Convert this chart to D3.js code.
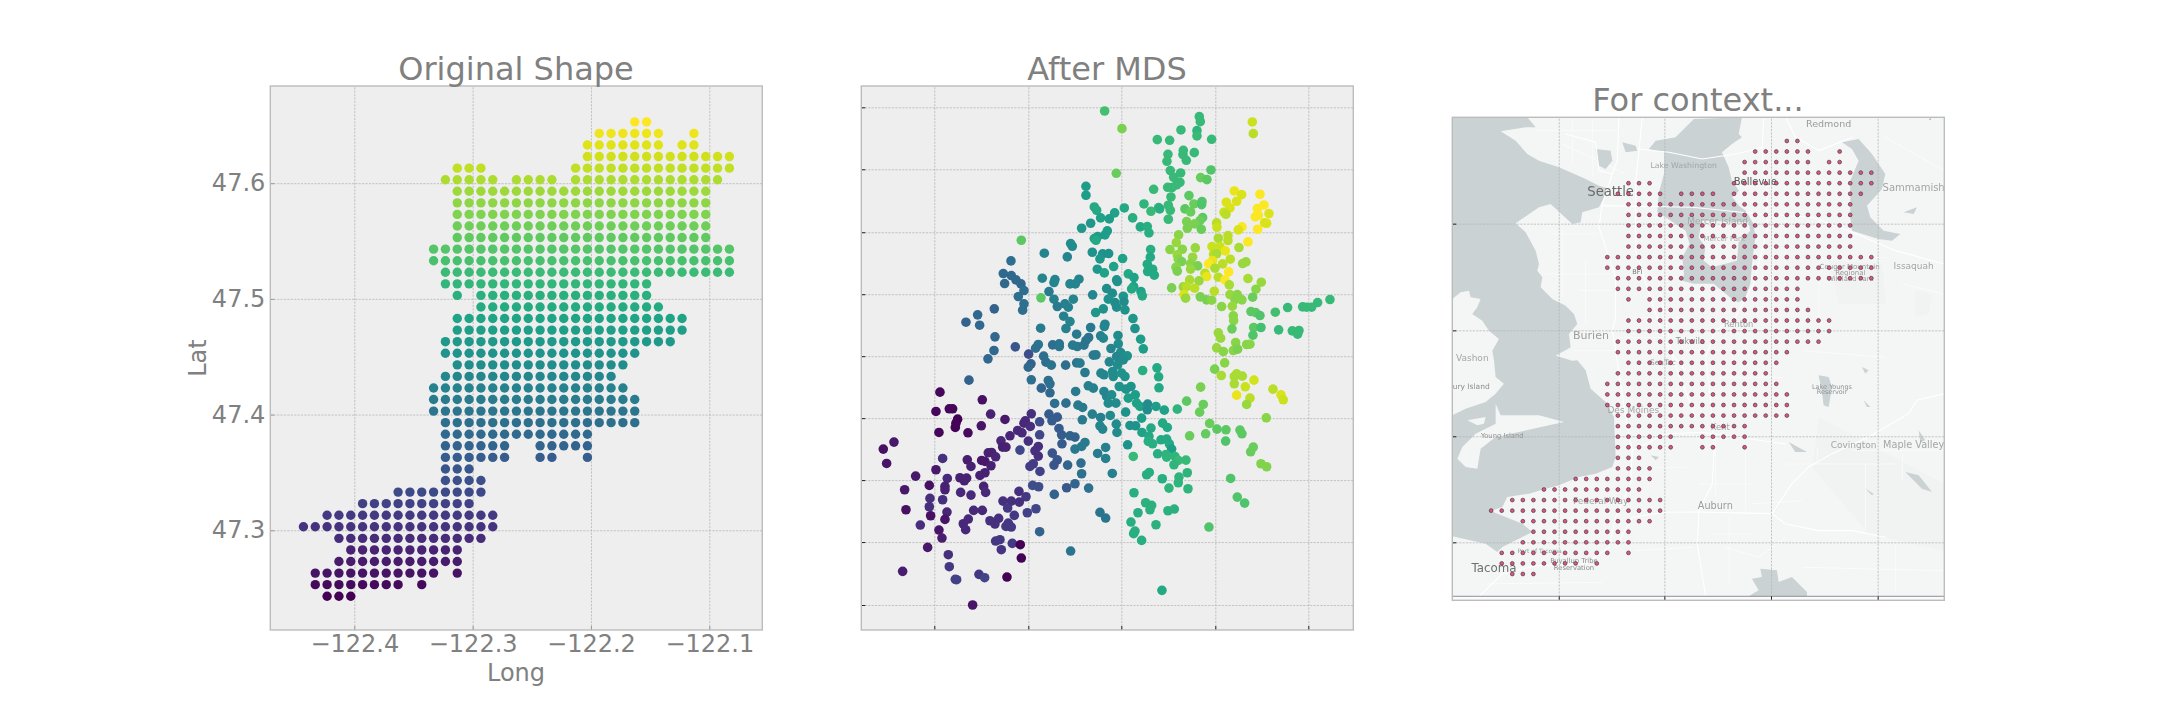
<!DOCTYPE html>
<html>
<head>
<meta charset="utf-8">
<script src="https://cdn.jsdelivr.net/npm/d3@7"></script>
<style>
  html, body { margin: 0; background: #fff; }
  text { font-family: "DejaVu Sans", sans-serif; }
</style>
</head>
<body>
<div id="chart"></div>
<script>
// Titles and axis text
const titles = ["Original Shape", "After MDS", "For context..."];
const lonTicks = [-122.4, -122.3, -122.2, -122.1];
const latTicks = [47.3, 47.4, 47.5, 47.6];

// Sample grid: one lat per row (south to north), one lon per column
const gridLats = [47.243, 47.253, 47.263, 47.273, 47.283, 47.293, 47.303, 47.313, 47.323, 47.333, 47.343,
  47.353, 47.363, 47.373, 47.383, 47.393, 47.403, 47.413, 47.423, 47.433, 47.443,
  47.453, 47.463, 47.473, 47.483, 47.493, 47.503, 47.513, 47.523, 47.533, 47.543,
  47.553, 47.563, 47.573, 47.583, 47.593, 47.603, 47.613, 47.623, 47.633, 47.643, 47.653];
const gridLons = [-122.443, -122.433, -122.423, -122.413, -122.403, -122.393, -122.383, -122.373, -122.363, -122.353,
  -122.343, -122.333, -122.323, -122.313, -122.303, -122.293, -122.283, -122.273, -122.263, -122.253,
  -122.243, -122.233, -122.223, -122.213, -122.203, -122.193, -122.183, -122.173, -122.163, -122.153,
  -122.143, -122.133, -122.123, -122.113, -122.103, -122.093, -122.083];
// Column runs [first, last] that hold a sample, row by row from the south
const gridRuns = [
  [[2,4]], [[1,8],[10,10]], [[1,11],[13,13]], [[3,13]], [[4,13]], [[3,15]], [[0,16]], [[2,16]], [[5,14]], [[8,15]],
  [[12,15]], [[12,14]], [[12,17],[20,21],[24,24]], [[12,17],[20,24]], [[12,24]], [[12,28]], [[11,28]], [[11,28]], [[11,27]], [[12,26]],
  [[13,27]], [[12,28]], [[12,31]], [[13,32]], [[13,32]], [[15,30]], [[13,13],[15,29]], [[12,29]], [[12,36]], [[11,36]],
  [[11,36]], [[13,34]], [[13,34]], [[13,34]], [[13,34]], [[13,34]], [[12,16],[18,21],[23,35]], [[13,15],[23,36]], [[24,36]], [[24,30],[32,33]],
  [[25,30],[33,33]], [[28,29]]
];

// MDS result: [x, y, lat of the source sample], arbitrary units
const mdsXTicks = [253, 535, 814, 1096, 1375];
const mdsYTicks = [112, 298, 487, 673, 859, 1045, 1231, 1417, 1606];
const mdsPoints = [
  [764,123,47.53],[816,176,47.57],[1048,140,47.52],[1051,155,47.52],[1207,156,47.62],[1210,191,47.61],[993,180,47.52],[1041,182,47.51],[1041,198,47.52],[922,209,47.52],
  [959,211,47.52],[1085,208,47.52],[1000,241,47.52],[999,254,47.52],[1009,271,47.52],[1033,248,47.52],[954,253,47.52],[951,274,47.52],[961,302,47.52],[992,309,47.52],
  [1083,300,47.54],[799,310,47.56],[971,322,47.52],[990,337,47.52],[980,345,47.52],[953,352,47.52],[966,353,47.52],[1052,323,47.56],[1071,329,47.55],[911,358,47.52],
  [708,349,47.47],[708,376,47.47],[1153,363,47.64],[1175,374,47.63],[1230,373,47.65],[1129,397,47.63],[1160,394,47.63],[1017,377,47.55],[963,381,47.52],[1032,402,47.56],
  [1056,395,47.54],[1055,404,47.54],[882,402,47.51],[955,406,47.52],[926,413,47.51],[929,417,47.5],[961,421,47.52],[903,424,47.52],[1005,417,47.55],[1022,426,47.56],
  [1242,405,47.65],[1222,416,47.65],[1140,414,47.63],[1122,427,47.62],[1128,433,47.61],[1257,431,47.63],[1225,436,47.65],[1216,441,47.65],[733,411,47.49],[740,421,47.49],
  [823,414,47.49],[794,429,47.48],[778,447,47.47],[752,444,47.48],[848,444,47.5],[955,448,47.52],[1058,443,47.55],[1050,452,47.56],[1010,455,47.57],[1034,462,47.57],
  [1100,459,47.61],[1244,459,47.63],[1250,460,47.63],[1101,472,47.62],[1176,471,47.65],[1165,480,47.63],[1223,478,47.65],[722,460,47.46],[695,475,47.46],[871,471,47.49],
  [892,470,47.5],[897,489,47.5],[1012,475,47.57],[1054,478,47.56],[772,483,47.47],[765,495,47.47],[743,500,47.47],[733,506,47.48],[738,511,47.49],[986,495,47.58],
  [1105,505,47.6],[1134,497,47.61],[1134,512,47.61],[1194,516,47.65],[514,511,47.55],[662,521,47.44],[667,529,47.44],[979,518,47.59],[1086,530,47.62],[1167,533,47.6],
  [960,539,47.58],[997,538,47.58],[1036,534,47.59],[1110,530,47.62],[1126,543,47.64],[902,539,47.5],[727,547,47.45],[583,550,47.43],[758,552,47.45],[776,551,47.45],
  [652,561,47.43],[750,567,47.46],[818,566,47.48],[901,562,47.49],[982,555,47.59],[1091,553,47.61],[1100,552,47.6],[1028,562,47.59],[1088,572,47.64],[1076,582,47.65],
  [1118,582,47.61],[1141,568,47.61],[1188,576,47.59],[1178,581,47.59],[985,568,47.58],[995,575,47.57],[483,573,47.39],[892,583,47.49],[791,590,47.48],[742,598,47.46],
  [1022,581,47.58],[1043,588,47.57],[978,592,47.58],[1022,598,47.59],[982,604,47.57],[1095,595,47.6],[1136,606,47.65],[1065,610,47.61],[763,609,47.48],[893,605,47.49],
  [908,598,47.49],[913,616,47.49],[835,612,47.49],[460,611,47.38],[484,617,47.38],[1105,622,47.61],[1125,630,47.65],[1070,620,47.64],[577,625,47.43],[615,629,47.43],
  [612,638,47.43],[687,628,47.43],[676,642,47.43],[660,642,47.43],[800,630,47.45],[802,635,47.45],[852,623,47.48],[1194,626,47.6],[1234,637,47.59],[1019,630,47.6],
  [1047,633,47.59],[1138,645,47.6],[464,641,47.38],[498,630,47.38],[513,642,47.38],[851,650,47.48],[845,657,47.49],[965,654,47.57],[1000,651,47.59],[1010,650,47.61],
  [1034,655,47.61],[1093,664,47.61],[770,656,47.44],[522,662,47.39],[597,665,47.41],[787,670,47.44],[873,665,47.48],[1218,658,47.58],[505,680,47.39],[728,675,47.43],
  [820,679,47.46],[877,678,47.49],[1002,674,47.63],[1007,685,47.59],[1051,681,47.57],[1070,690,47.57],[1085,691,47.58],[1140,674,47.59],[1162,674,47.58],[1208,682,47.56],
  [1155,689,47.58],[573,684,47.55],[612,688,47.42],[670,688,47.43],[775,688,47.45],[795,698,47.44],[1176,690,47.58],[1440,689,47.52],[522,702,47.39],[645,702,47.42],
  [822,695,47.44],[1403,698,47.52],[1358,711,47.52],[1370,712,47.52],[1385,712,47.52],[1313,713,47.52],[1147,709,47.59],[1115,710,47.58],[622,710,47.41],[655,712,47.42],
  [800,712,47.44],[825,720,47.45],[760,717,47.45],[433,717,47.37],[518,721,47.39],[737,728,47.46],[1203,725,47.55],[1217,728,47.55],[1230,737,47.54],[1276,727,47.53],
  [1150,738,47.58],[1151,752,47.58],[383,735,47.38],[641,739,47.42],[660,755,47.43],[849,746,47.46],[348,757,47.37],[389,766,47.38],[765,763,47.43],[763,770,47.43],
  [572,775,47.41],[648,776,47.42],[722,773,47.41],[855,776,47.45],[1146,777,47.56],[1211,773,47.55],[1233,773,47.53],[1286,780,47.52],[1327,783,47.52],[1347,782,47.52],
  [1343,793,47.52],[1105,789,47.59],[1112,805,47.59],[680,793,47.41],[435,801,47.38],[804,797,47.44],[752,798,47.42],[760,805,47.43],[1209,796,47.54],[716,803,47.4],
  [708,812,47.4],[872,808,47.47],[1157,818,47.58],[805,822,47.44],[565,824,47.4],[608,825,47.39],[628,822,47.4],[628,830,47.4],[668,826,47.41],[682,830,47.41],
  [702,826,47.4],[557,835,47.39],[496,831,47.35],[1190,824,47.58],[1200,823,47.58],[880,837,47.47],[783,836,47.43],[1100,834,47.59],[1120,845,47.58],[1150,842,47.58],
  [1163,838,47.57],[432,842,47.38],[536,853,47.34],[738,855,47.41],[730,856,47.41],[812,848,47.44],[832,858,47.45],[800,860,47.43],[820,870,47.44],[414,867,47.38],
  [581,859,47.39],[778,876,47.43],[680,879,47.4],[690,880,47.41],[588,877,47.39],[604,886,47.4],[647,886,47.39],[543,882,47.37],[535,892,47.38],[803,885,47.44],
  [1124,879,47.58],[1094,898,47.57],[878,902,47.5],[921,894,47.49],[705,908,47.41],[753,910,47.43],[762,915,47.43],[788,905,47.44],[790,920,47.44],[815,910,47.45],
  [825,920,47.45],[926,921,47.49],[1114,917,47.6],[1153,920,47.6],[1160,912,47.6],[1177,919,47.6],[1212,931,47.625],[544,930,47.39],[595,932,47.39],[600,942,47.39],
  [927,954,47.49],[1153,942,47.6],[1052,952,47.57],[1186,951,47.62],[574,955,47.375],[357,931,47.37],[715,948,47.42],[730,955,47.42],[270,967,47.25],[600,969,47.38],
  [677,965,47.41],[762,965,47.43],[770,980,47.43],[808,950,47.45],[828,958,47.45],[843,950,47.45],[856,975,47.47],[785,975,47.44],[1160,976,47.64],[1200,985,47.61],
  [1269,958,47.61],[1293,975,47.63],[1300,990,47.62],[397,990,47.26],[614,1001,47.39],[648,1000,47.39],[684,1006,47.41],[698,1013,47.41],[775,1000,47.44],[798,1000,47.44],
  [835,985,47.47],[860,1000,47.48],[870,1010,47.48],[893,1003,47.44],[892,1020,47.44],[918,1010,47.47],[943,1021,47.48],[982,1018,47.51],[1010,994,47.55],[1060,1004,47.56],
  [1190,1004,47.59],[258,1025,47.25],[298,1017,47.25],[308,1017,47.25],[422,1033,47.28],[544,1032,47.3],[597,1033,47.36],[622,1042,47.36],[606,1053,47.36],[697,1050,47.41],
  [727,1033,47.42],[752,1043,47.42],[781,1037,47.44],[827,1027,47.45],[875,1045,47.47],[1049,1027,47.56],[465,1049,47.27],[323,1048,47.245],[318,1060,47.245],[316,1073,47.245],
  [526,1053,47.29],[522,1060,47.29],[569,1056,47.34],[541,1070,47.295],[394,1068,47.265],[1249,1044,47.58],[1079,1061,47.56],[799,1063,47.44],[840,1067,47.45],[857,1068,47.45],
  [938,1060,47.49],[952,1073,47.49],[627,1076,47.36],[750,1068,47.43],[758,1078,47.43],[903,1075,47.49],[1101,1078,47.55],[1128,1080,47.55],[1170,1081,47.55],[1176,1092,47.55],
  [267,1088,47.25],[354,1089,47.255],[503,1082,47.29],[516,1089,47.29],[569,1095,47.33],[480,1098,47.285],[635,1095,47.36],[660,1098,47.37],[675,1102,47.37],[801,1088,47.44],
  [876,1088,47.48],[897,1100,47.49],[1019,1098,47.56],[1067,1092,47.555],[132,1117,47.27],[453,1113,47.29],[535,1114,47.3],[636,1122,47.36],[705,1118,47.41],[833,1125,47.45],
  [895,1115,47.5],[908,1122,47.5],[933,1110,47.49],[950,1108,47.49],[958,1122,47.49],[1127,1114,47.54],[100,1138,47.26],[458,1132,47.28],[468,1132,47.28],[565,1130,47.3],
  [555,1143,47.3],[510,1141,47.33],[675,1138,47.41],[695,1130,47.41],[767,1133,47.42],[965,1138,47.47],[1210,1132,47.56],[1202,1146,47.56],[415,1149,47.28],[425,1148,47.28],
  [437,1161,47.285],[607,1150,47.35],[743,1151,47.41],[923,1152,47.5],[850,1160,47.52],[948,1154,47.51],[950,1162,47.51],[975,1160,47.51],[565,1159,47.3],[278,1166,47.3],
  [352,1170,47.275],[395,1172,47.27],[405,1175,47.27],[622,1170,47.35],[767,1166,47.42],[1008,1171,47.52],[985,1172,47.52],[110,1181,47.265],[550,1182,47.315],[540,1190,47.315],
  [612,1186,47.35],[653,1186,47.375],[693,1180,47.39],[423,1188,47.28],[363,1190,47.28],[972,1185,47.51],[1233,1182,47.575],[1250,1191,47.575],[258,1200,47.27],[405,1209,47.28],
  [390,1217,47.28],[570,1205,47.32],[695,1212,47.395],[787,1211,47.42],[890,1215,47.5],[898,1208,47.5],[1012,1209,47.51],[197,1219,47.27],[292,1226,47.29],[330,1224,47.28],
  [343,1233,47.28],[350,1225,47.28],[937,1227,47.5],[1142,1226,47.54],[987,1222,47.51],[985,1239,47.51],[238,1247,47.26],[285,1250,47.28],[285,1260,47.28],[401,1250,47.28],
  [548,1247,47.34],[566,1251,47.34],[650,1254,47.355],[675,1242,47.375],[716,1255,47.395],[957,1255,47.51],[1014,1257,47.51],[164,1260,47.27],[332,1268,47.29],[407,1268,47.29],
  [363,1276,47.29],[507,1265,47.3],[613,1274,47.37],[852,1269,47.5],[240,1286,47.3],[278,1290,47.3],[528,1281,47.31],[459,1294,47.3],[484,1294,47.3],[508,1297,47.3],
  [1162,1282,47.54],[238,1311,47.3],[473,1315,47.31],[371,1322,47.29],[397,1322,47.29],[291,1327,47.285],[168,1320,47.26],[558,1317,47.33],[887,1299,47.505],[905,1307,47.505],
  [900,1320,47.505],[954,1323,47.505],[973,1318,47.505],[1184,1300,47.54],[750,1328,47.4],[242,1338,47.26],[532,1329,47.32],[864,1329,47.5],[493,1337,47.31],[767,1345,47.4],
  [355,1348,47.29],[446,1346,47.3],[420,1353,47.3],[285,1349,47.265],[435,1363,47.3],[475,1360,47.31],[468,1370,47.31],[484,1372,47.31],[340,1362,47.29],[211,1366,47.295],
  [843,1357,47.5],[918,1365,47.505],[1077,1372,47.54],[347,1380,47.29],[267,1381,47.265],[569,1386,47.37],[855,1384,47.5],[851,1392,47.5],[276,1405,47.275],[437,1414,47.31],
  [450,1410,47.31],[875,1412,47.5],[487,1421,47.315],[511,1425,47.245],[233,1433,47.27],[454,1440,47.305],[295,1455,47.3],[662,1444,47.4],[514,1465,47.245],[298,1491,47.31],
  [158,1505,47.275],[316,1529,47.32],[320,1530,47.32],[387,1514,47.31],[404,1524,47.325],[471,1522,47.245],[936,1562,47.49],[368,1606,47.265]
];

// Basemap, in tile units measured from the top-left corner of the map image
const mapWater = [
  [[0,0],[225,0],[250,30],[220,30],[145,42],[190,70],[225,110],[260,130],[320,150],[400,185],[440,205],[470,215],[450,250],[440,270],[390,285],[385,315],[360,320],[295,260],[260,270],[190,318],[220,345],[250,400],[260,440],[255,460],[270,480],[265,510],[300,545],[340,565],[365,590],[375,620],[350,650],[355,690],[310,715],[360,730],[375,729],[400,759],[415,814],[460,854],[485,899],[490,1019],[480,1049],[430,1069],[380,1079],[320,1104],[280,1114],[230,1129],[165,1139],[150,1169],[115,1181],[160,1199],[210,1219],[240,1244],[210,1259],[150,1289],[135,1304],[100,1279],[0,1257]],
  [[590,95],[610,70],[670,60],[700,30],[725,5],[869,0],[859,50],[869,60],[839,80],[809,105],[829,150],[839,190],[860,220],[840,240],[860,265],[880,280],[904,320],[909,360],[899,440],[894,500],[879,540],[859,555],[844,549],[784,499],[724,499],[690,490],[695,470],[690,420],[712,380],[700,340],[640,300],[615,285],[620,225],[635,170],[636,105]],
  [[430,95],[475,100],[480,130],[460,155],[440,145]],
  [[510,75],[550,85],[555,100],[520,105]],
  [[1169,75],[1219,65],[1259,110],[1299,170],[1289,215],[1244,265],[1254,300],[1294,340],[1344,350],[1319,370],[1279,365],[1199,340],[1194,300],[1194,190],[1219,130],[1199,95]],
  [[1354,285],[1394,270],[1384,290]],
  [[1099,774],[1129,779],[1139,809],[1129,869],[1114,864],[1109,824]],
  [[1009,974],[1064,1004],[1029,1004]],
  [[1359,1064],[1399,1074],[1439,1124],[1409,1114]],
  [[1239,1114],[1264,1129],[1259,1134]],
  [[1399,939],[1419,969],[1404,974]],
  [[1229,749],[1249,759],[1239,769]],
  [[1234,849],[1254,869],[1244,869]],
  [[924,1354],[974,1359],[979,1394],[1019,1379],[1064,1424],[1064,1437],[889,1437],[919,1419],[899,1384],[929,1379]],
  [[595,1014],[620,1019],[610,1029]]
];
const mapLand = [
  [[0,545],[25,525],[50,520],[55,540],[85,545],[75,570],[60,590],[90,610],[110,640],[140,665],[120,700],[125,729],[130,779],[155,799],[130,829],[100,854],[40,874],[0,894]],
  [[130,859],[145,894],[170,894],[260,894],[335,914],[290,924],[200,944],[130,959],[85,994],[75,1054],[40,1049],[15,1024],[30,989],[70,949],[130,919]],
  [[45,909],[100,899],[95,919],[75,924]],
  [[749,310],[889,315],[894,340],[859,375],[854,430],[779,450],[754,430],[759,390],[739,360]]
];
const mapShade = [
  [[1389,520],[1439,530],[1429,590],[1389,600]],
  [[1100,900],[1476,1100],[1476,1300],[1250,1250],[1080,1050]],
  [[1130,430],[1290,440],[1300,560],[1160,560]]
];
const mapRoads = [
  [[500,0],[495,130],[480,170],[450,260],[440,330],[490,480],[490,600],[480,640],[490,700],[505,800],[520,900],[540,1000],[535,1100],[490,1200],[470,1290],[400,1340],[250,1345],[150,1370]],
  [[555,95],[650,105],[750,125],[850,110],[930,90]],
  [[450,265],[720,270],[920,290],[1080,300],[1200,345],[1330,400],[1476,440]],
  [[934,0],[929,100],[944,230],[944,340],[904,500],[849,600],[789,640],[760,720],[770,800],[780,900],[785,1000],[780,1100],[740,1180],[735,1280],[760,1437]],
  [[729,1184],[959,1189],[1019,1099],[1069,1049],[1139,1009],[1249,959],[1369,889],[1394,849],[1476,829]],
  [[340,50],[430,75],[440,160],[480,170]],
  [[570,0],[560,100],[550,200],[550,400],[600,560],[650,700],[700,760]],
  [[620,500],[660,720],[730,900]],
  [[1000,0],[1030,60],[1100,100],[1200,60]],
  [[959,1189],[1000,1220],[1100,1240],[1200,1240],[1300,1260]],
  [[540,1000],[640,950],[750,945],[1000,980]],
  [[150,1370],[80,1437]],
  [[490,1290],[540,1200],[640,1185],[729,1184]]
];
const mapStreets = [
  [[330,80],[520,170]], [[360,0],[360,140]], [[420,0],[420,180]], [[250,40],[500,40]], [[300,350],[430,350]], [[330,300],[330,540]], [[400,430],[400,620]], [[280,470],[470,470]],
  [[380,520],[480,520]], [[490,660],[720,660]], [[360,700],[500,700]], [[600,480],[730,480]], [[580,640],[680,640]], [[1000,200],[1000,560]], [[1100,420],[1300,420]], [[1000,640],[1200,640]],
  [[790,960],[790,1130]], [[740,1100],[900,1100]], [[880,1000],[880,1180]], [[780,1250],[900,1250]], [[830,1200],[830,1400]], [[1000,1040],[1330,1040]], [[1095,990],[1095,1030]], [[1200,1000],[1476,1000]],
  [[1350,1010],[1350,1090]], [[1050,1350],[1476,1360]], [[1330,1280],[1330,1420]], [[100,1400],[450,1395]], [[550,1300],[720,1290]], [[600,1050],[700,1050]], [[1100,300],[1100,600]], [[1300,60],[1476,160]],
  [[1350,500],[1476,530]], [[640,150],[700,150]], [[1,640],[130,680]], [[60,640],[60,760]], [[20,840],[140,830]], [[820,1290],[920,1320],[1000,1260]],
  [[560,200],[620,200]], [[540,300],[620,300]], [[540,600],[700,600]], [[700,700],[900,700]], [[800,780],[1000,780]], [[1050,700],[1300,720]], [[1240,1040],[1240,1240]], [[900,1160],[1050,1150]]
];
const mapLabels = [
  ["Seattle", 475, 236, 13.2, "#6a6a6a"], ["Lake Washington", 694, 153, 7.8, "#a0a6a8"], ["Mercer Island", 796, 320, 9, "#a9a9a9"], ["Mercer Park", 816, 372, 7, "#a9a9a9"],
  ["Bellevue", 909, 204, 10, "#5a5a5a"], ["Redmond", 1129, 29, 9.5, "#9a9a9a"], ["Sammamish", 1384, 222, 10, "#a5a5a5"], ["Burien", 416, 664, 11, "#9c9c9c"],
  ["Vashon", 60, 732, 9, "#a5a5a5"], ["Issaquah", 1384, 455, 9, "#a5a5a5"], ["Cougar Mountain", 1192, 455, 7, "#9a9a9a"], ["Regional", 1194, 473, 7, "#9a9a9a"],
  ["Wildland Park", 1194, 490, 6.8, "#9a9a9a"], ["Renton", 859, 628, 8.3, "#a0a0a0"], ["Kent", 804, 937, 8.5, "#a5a5a5"], ["Auburn", 789, 1176, 9.7, "#9c9c9c"],
  ["Covington", 1204, 992, 9, "#a5a5a5"], ["Maple Valley", 1384, 992, 9.7, "#a5a5a5"], ["Lake Youngs", 1139, 814, 6.5, "#8f9496"], ["Reservoir", 1139, 830, 6.5, "#8f9496"],
  ["Des Moines", 543, 887, 9, "#a5a5a5"], ["Federal Way", 445, 1159, 9, "#a5a5a5"], ["Maury Island", 40, 815, 7.5, "#8f8f8f"], ["Young Island", 150, 962, 6.8, "#909090"],
  ["Puyallup Tribe", 365, 1338, 6.8, "#8a8a8a"], ["Reservation", 365, 1357, 6.8, "#8a8a8a"], ["Tacoma", 125, 1363, 11.8, "#6f6f6f"], ["Port of Tacoma", 262, 1307, 6, "#9a9a9a"],
  ["SeaTac", 632, 743, 7.5, "#9a9a9a"], ["Tukwila", 714, 681, 8, "#8f8f8f"], ["BFI", 555, 470, 6.5, "#777777"], ["Novelty Hill", 1420, 3, 8, "#a5a5a5"]
];
const mapGridLons = [-122.379, -122.279, -122.178, -122.077];
const mapGridLats = [47.2730, 47.3734, 47.4737, 47.5747];

// Expand the runs into the sample points
const gridPoints = [];
gridRuns.forEach((runs, r) => runs.forEach(run => {
  gridLons.slice(run[0], run[1] + 1).forEach(lon => gridPoints.push({lon: lon, lat: gridLats[r]}));
}));

const svg = d3.select("#chart").append("svg").attr("width", 2160).attr("height", 720);
const textColor = "#808080";
const color = d3.scaleSequential(d3.interpolateViridis).domain([47.243, 47.653]);

function frame(left, top) {
  return svg.append("g").attr("transform", "translate(" + left + "," + top + ")");
}
function gridAxes(g, x, y, xTicks, yTicks, w, h, tickColor) {
  const gx = g.append("g").attr("class", "grid").attr("transform", "translate(0," + h + ")")
    .call(d3.axisBottom(x).tickValues(xTicks).tickSize(-h).tickFormat(""));
  const gy = g.append("g").attr("class", "grid")
    .call(d3.axisLeft(y).tickValues(yTicks).tickSize(-w).tickFormat(""));
  g.selectAll(".grid .domain").remove();
  g.selectAll(".grid line").attr("stroke", "#b8b8b8").attr("stroke-width", 0.8).attr("stroke-dasharray", "2.2,1.2");
  // short inward tick on top of each grid line
  gx.selectAll(".tick").append("line").attr("y2", -4).attr("stroke", tickColor).attr("stroke-width", 1);
  gy.selectAll(".tick").append("line").attr("x2", 4).attr("stroke", tickColor).attr("stroke-width", 1);
}
function spine(g, w, h) {
  g.append("rect").attr("width", w).attr("height", h).attr("fill", "none")
    .attr("stroke", "#bcbcbc").attr("stroke-width", 1.4);
}
function title(text, cx, y) {
  svg.append("text").attr("x", cx).attr("y", y).attr("text-anchor", "middle")
    .attr("font-size", 32).attr("fill", textColor).text(text);
}

// Panel 1: original shape
const w1 = 492, h1 = 544;
const g1 = frame(270.3, 86);
g1.append("rect").attr("width", w1).attr("height", h1).attr("fill", "#eeeeee");
const xLon = d3.scaleLinear().domain([-122.471, -122.0552]).range([0, w1]);
const yLat = d3.scaleLinear().domain([47.2138, 47.684]).range([h1, 0]);
gridAxes(g1, xLon, yLat, lonTicks, latTicks, w1, h1, "#999999");
g1.selectAll(".pt").data(gridPoints).enter().append("circle")
  .attr("cx", d => xLon(d.lon)).attr("cy", d => yLat(d.lat)).attr("r", 4.7)
  .attr("fill", d => color(d.lat));
spine(g1, w1, h1);
const xLabels = g1.append("g").attr("transform", "translate(0," + h1 + ")")
  .call(d3.axisBottom(xLon).tickValues(lonTicks).tickSize(0).tickPadding(5).tickFormat(d3.format(".1f")));
const yLabels = g1.append("g")
  .call(d3.axisLeft(yLat).tickValues(latTicks).tickSize(0).tickPadding(5).tickFormat(d3.format(".1f")));
xLabels.select(".domain").remove();
yLabels.select(".domain").remove();
g1.selectAll("g.tick text").filter(function() { return this.textContent !== ""; })
  .attr("font-size", 24).attr("fill", textColor).style("font-family", "'DejaVu Sans'");
title(titles[0], 516, 80);
svg.append("text").attr("x", 516).attr("y", 681).attr("text-anchor", "middle")
  .attr("font-size", 24).attr("fill", textColor).text("Long");
svg.append("text").attr("transform", "translate(206,358) rotate(-90)").attr("text-anchor", "middle")
  .attr("font-size", 24).attr("fill", textColor).text("Lat");

// Panel 2: after MDS
const g2 = frame(861.3, 86);
g2.append("rect").attr("width", w1).attr("height", h1).attr("fill", "#eeeeee");
const xMds = d3.scaleLinear().domain([34, 1510]).range([0, w1]);
const yMds = d3.scaleLinear().domain([48, 1681]).range([0, h1]);
gridAxes(g2, xMds, yMds, mdsXTicks, mdsYTicks, w1, h1, "#222222");
g2.selectAll(".pt").data(mdsPoints).enter().append("circle")
  .attr("cx", d => xMds(d[0])).attr("cy", d => yMds(d[1])).attr("r", 4.8)
  .attr("fill", d => color(d[2]));
spine(g2, w1, h1);
title(titles[1], 1107, 80);

// Panel 3: the samples over a basemap
const h3 = 483;
const g3 = frame(1452.3, 117.3);
const xTile = d3.scaleLinear().domain([0, 1476]).range([0, w1]);
const yTile = d3.scaleLinear().domain([0, 1449]).range([0, h3]);
const xMapLon = d3.scaleLinear().domain([-122.4798, -122.0139]).range([0, w1]);
const yMapLat = d3.scaleLinear().domain([47.2181, 47.6754]).range([h3, 0]);
const tileLine = d3.line().x(d => xTile(d[0])).y(d => yTile(d[1]));
svg.append("defs").html('<filter id="soft" x="0" y="0" width="100%" height="100%"><feGaussianBlur stdDeviation="0.4"/></filter>'
  + '<clipPath id="mapclip"><rect width="492" height="479"/></clipPath>');
const map = g3.append("g").attr("clip-path", "url(#mapclip)").append("g").attr("filter", "url(#soft)");
map.append("rect").attr("x", xTile(0)).attr("y", yTile(0)).attr("width", w1).attr("height", yTile(1437)).attr("fill", "#f4f5f5");
map.selectAll(".shade").data(mapShade).enter().append("path").attr("d", d => tileLine(d) + "Z").attr("fill", "#f1f2f2");
map.selectAll(".street").data(mapStreets).enter().append("path").attr("d", tileLine)
  .attr("fill", "none").attr("stroke", "#fdfdfd").attr("stroke-width", 0.8);
map.selectAll(".water").data(mapWater).enter().append("path").attr("d", d => tileLine(d) + "Z").attr("fill", "#cad2d4");
map.selectAll(".land").data(mapLand).enter().append("path").attr("d", d => tileLine(d) + "Z").attr("fill", "#f4f5f5");
map.selectAll(".road").data(mapRoads).enter().append("path").attr("d", tileLine)
  .attr("fill", "none").attr("stroke", "#ffffff").attr("stroke-width", 1.1);
map.selectAll(".place").data(mapLabels).enter().append("text")
  .attr("x", d => xTile(d[1])).attr("y", d => yTile(d[2])).attr("text-anchor", "middle")
  .attr("font-size", d => d[3]).attr("fill", d => d[4]).text(d => d[0]);
g3.append("rect").attr("y", yTile(1437)).attr("width", w1).attr("height", h3 - yTile(1437)).attr("fill", "#fbfbfb");
g3.append("line").attr("x1", 0).attr("x2", w1).attr("y1", yTile(1437)).attr("y2", yTile(1437))
  .attr("stroke", "#8e8e9c").attr("stroke-width", 1);
gridAxes(g3, xMapLon, yMapLat, mapGridLons, mapGridLats, w1, h3, "#222222");
g3.selectAll(".pt").data(gridPoints).enter().append("circle")
  .attr("cx", d => xMapLon(d.lon)).attr("cy", d => yMapLat(d.lat)).attr("r", 1.9)
  .attr("fill", "#dc5685").attr("stroke", "#4a3942").attr("stroke-width", 0.7);
spine(g3, w1, h3);
title(titles[2], 1698, 111);
</script>
</body>
</html>
